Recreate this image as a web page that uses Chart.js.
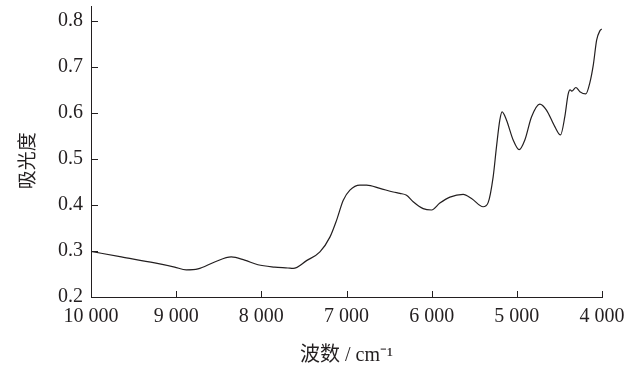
<!DOCTYPE html>
<html>
<head>
<meta charset="utf-8">
<script src="https://cdn.jsdelivr.net/npm/chart.js@4/dist/chart.umd.min.js"></script>
<style>
  html, body { margin: 0; padding: 0; background: #ffffff; }
  #wrap { width: 630px; height: 368px; }
</style>
</head>
<body>
<div id="wrap"><canvas id="c" width="630" height="368"></canvas></div>
<script>
// NIR absorbance spectrum
const wavenumbers = [
  10000, 9644, 9252, 9018, 8881, 8744, 8548, 8353, 8196, 8040,
  7844, 7688, 7626, 7469, 7312, 7195, 7116, 7038, 6960, 6843,
  6764, 6608, 6452, 6373, 6295, 6217, 6100, 6001, 5904, 5786,
  5630, 5532, 5396, 5337, 5278, 5239, 5200, 5173, 5121, 5043,
  4973, 4906, 4828, 4730, 4652, 4554, 4487, 4437, 4398, 4375,
  4355, 4307, 4260, 4190, 4143, 4102, 4063, 4025, 4004
];
const absorbance = [
  0.299, 0.287, 0.274, 0.265, 0.259, 0.261, 0.276, 0.287, 0.280, 0.270,
  0.265, 0.263, 0.262, 0.279, 0.298, 0.330, 0.367, 0.410, 0.432, 0.443,
  0.443, 0.436, 0.428, 0.425, 0.421, 0.407, 0.392, 0.389, 0.404, 0.417,
  0.423, 0.414, 0.396, 0.405, 0.461, 0.526, 0.584, 0.602, 0.584, 0.541,
  0.520, 0.541, 0.591, 0.619, 0.606, 0.570, 0.552, 0.591, 0.640, 0.650,
  0.647, 0.655, 0.646, 0.641, 0.665, 0.704, 0.758, 0.778, 0.782
];
const yTicks = [0.2, 0.3, 0.4, 0.5, 0.6, 0.7, 0.8];
const xTicks = [10000, 9000, 8000, 7000, 6000, 5000, 4000];
const yTitle = '吸光度';
const xTitle = '波数 / cm⁻¹';

const INK = '#231f20';
const SERIF = "'Liberation Serif', 'Noto Sans CJK SC', serif";

function spaced(v) {
  return String(Math.round(v)).replace(/\B(?=(\d{3})+(?!\d))/g, ' ');
}

// short tick marks pointing into the plot area
const innerTicks = {
  id: 'innerTicks',
  afterDraw(chart) {
    const ctx = chart.ctx;
    const xs = chart.scales.x, ys = chart.scales.y;
    ctx.save();
    ctx.strokeStyle = INK;
    ctx.lineWidth = 1;
    ctx.beginPath();
    xs.ticks.forEach(t => {
      const px = Math.round(xs.getPixelForValue(t.value)) + 0.5;
      ctx.moveTo(px, ys.bottom);
      ctx.lineTo(px, ys.bottom - 6);
    });
    ys.ticks.forEach(t => {
      const py = Math.round(ys.getPixelForValue(t.value)) + 0.5;
      ctx.moveTo(xs.left, py);
      ctx.lineTo(xs.left + 7, py);
    });
    ctx.stroke();
    ctx.restore();
  }
};

// vertical axis title, centred on the labelled range
const yAxisTitle = {
  id: 'yAxisTitle',
  afterDraw(chart) {
    const ys = chart.scales.y;
    const ctx = chart.ctx;
    const mid = (ys.getPixelForValue(yTicks[0]) + ys.getPixelForValue(yTicks[yTicks.length - 1])) / 2 + 2;
    ctx.save();
    ctx.translate(27, mid);
    ctx.rotate(-Math.PI / 2);
    ctx.fillStyle = INK;
    ctx.font = "19px 'Noto Sans CJK SC'";
    ctx.textAlign = 'center';
    ctx.textBaseline = 'middle';
    ctx.fillText(yTitle, 0, 0);
    ctx.restore();
  }
};

new Chart(document.getElementById('c'), {
  type: 'line',
  data: {
    datasets: [{
      data: wavenumbers.map((w, i) => ({ x: w, y: absorbance[i] })),
      borderColor: INK,
      borderWidth: 1.2,
      pointRadius: 0,
      fill: false,
      cubicInterpolationMode: 'monotone'
    }]
  },
  options: {
    responsive: false,
    animation: false,
    devicePixelRatio: 1,
    layout: { padding: { top: 6, right: 28, left: 0, bottom: 0 } },
    plugins: { legend: { display: false }, tooltip: { enabled: false } },
    scales: {
      x: {
        type: 'linear',
        reverse: true,
        min: 4000,
        max: 10000,
        afterBuildTicks: s => { s.ticks = xTicks.map(v => ({ value: v })); },
        afterFit: s => { s.height = 71; s.paddingLeft = 0; s.paddingRight = 0; },
        grid: { display: true, drawOnChartArea: false, drawTicks: false },
        border: { display: true, color: INK, width: 1 },
        ticks: {
          padding: 8,
          color: INK,
          maxRotation: 0,
          autoSkip: false,
          font: { family: SERIF, size: 20 },
          callback: v => spaced(v)
        },
        title: {
          display: true,
          text: xTitle,
          color: INK,
          font: { family: SERIF, size: 20 },
          padding: { top: 0, bottom: 0 }
        }
      },
      y: {
        type: 'linear',
        min: 0.2,
        max: 0.832,
        afterBuildTicks: s => { s.ticks = yTicks.map(v => ({ value: v })); },
        afterFit: s => { s.width = 91; s.paddingTop = 0; s.paddingBottom = 0; },
        grid: { display: true, drawOnChartArea: false, drawTicks: false },
        border: { display: true, color: INK, width: 1 },
        ticks: {
          padding: 8,
          color: INK,
          autoSkip: false,
          font: { family: SERIF, size: 20 },
          callback: v => v.toFixed(1)
        }
      }
    }
  },
  plugins: [innerTicks, yAxisTitle]
});
</script>
</body>
</html>
